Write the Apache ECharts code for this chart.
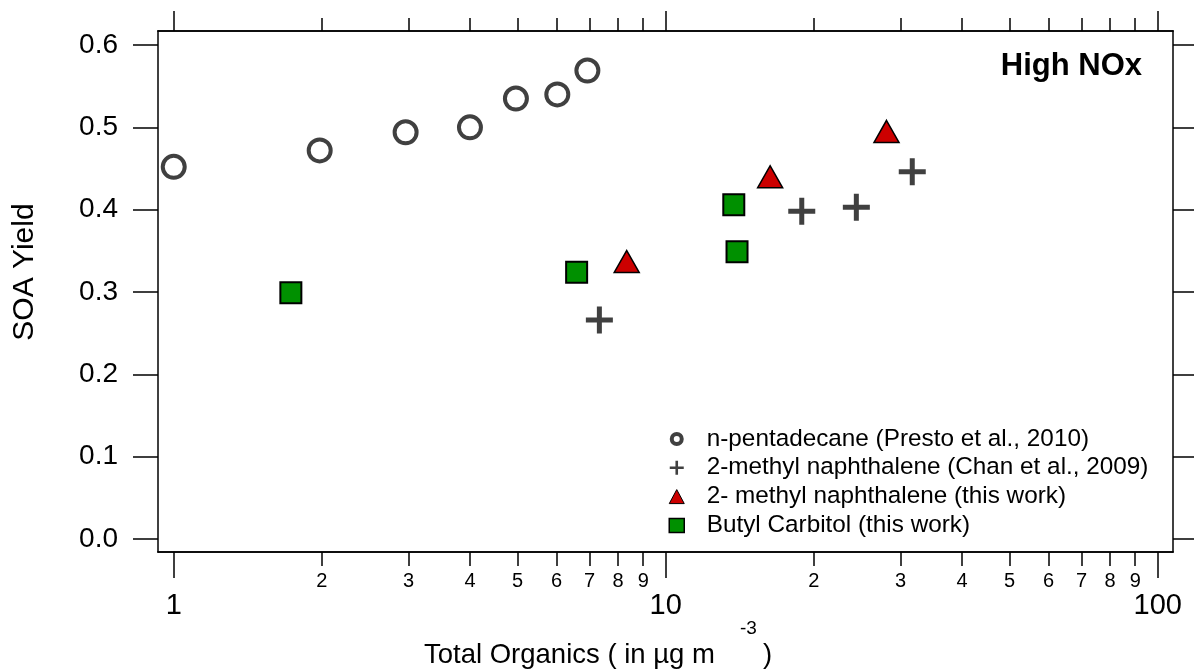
<!DOCTYPE html>
<html>
<head>
<meta charset="utf-8">
<script src="https://cdn.jsdelivr.net/npm/echarts@6/dist/echarts.min.js"></script>
<style>
  html, body { margin: 0; padding: 0; background: #fff; }
  #main { width: 1194px; height: 670px; }
</style>
</head>
<body>
<div id="main"></div>
<script>
// values
var pentadecaneX = [1.0, 1.98, 2.96, 4.0, 4.96, 6.02, 6.93]
var pentadecaneY = [0.452, 0.472, 0.494, 0.500, 0.535, 0.540, 0.569]
var chanX = [7.33, 18.9, 24.4, 31.7]
var chanY = [0.266, 0.398, 0.403, 0.446]
var methylX = [8.33, 16.3, 28.1]
var methylY = [0.337, 0.440, 0.495]
var butylX = [1.73, 6.59, 13.75, 13.96]
var butylY = [0.299, 0.324, 0.406, 0.349]

var seriesNames = [
  'n-pentadecane (Presto et al., 2010)',
  '2-methyl naphthalene (Chan et al., 2009)',
  '2- methyl naphthalene (this work)',
  'Butyl Carbitol (this work)'
]
var majorTicks = [1, 10, 100]
var minorTicks = [2, 3, 4, 5, 6, 7, 8, 9, 20, 30, 40, 50, 60, 70, 80, 90]
var yTicks = [0, 0.1, 0.2, 0.3, 0.4, 0.5, 0.6]

var FONT = '"Liberation Sans", Arial, sans-serif'
var xMin = 0.929, xMax = 107.4
var yMin = -0.0158, yMax = 0.617
var plusPath = 'path://M11,0H16V11H27V16H16V27H11V16H0V11H11Z'
var ringPath = 'path://M7,0A7,7,0,1,1,6.99,0ZM7,4A3,3,0,1,0,7.01,4Z'

function pairs(xs, ys) {
  var res = []
  for (var i = 0; i < xs.length; i++) res.push([xs[i], ys[i]])
  return res
}

function logAxis(pos, ticks, len, label) {
  return {
    type: 'log', logBase: 10, position: pos, min: xMin, max: xMax,
    axisLine: { show: true, onZero: false, lineStyle: { color: '#000', width: 1.5 } },
    axisTick: { show: true, inside: false, length: len, customValues: ticks,
      lineStyle: { color: '#000', width: 1.5 } },
    axisLabel: label ? label : { show: false },
    splitLine: { show: false }, minorTick: { show: false }
  }
}

var myChart = echarts.init(document.getElementById('main'))

var option = {
  animation: false,
  backgroundColor: '#fff',
  grid: { left: 158, top: 31, right: 21, bottom: 118 },
  xAxis: [
    logAxis('bottom', majorTicks, 26, {
      show: true, customValues: majorTicks, margin: 39,
      fontFamily: FONT, fontSize: 29, color: '#000',
      formatter: function (v) { return String(Math.round(v)) }
    }),
    logAxis('bottom', minorTicks, 14, {
      show: true, customValues: minorTicks, margin: 19,
      fontFamily: FONT, fontSize: 20, color: '#000',
      formatter: function (v) {
        var p = Math.pow(10, Math.floor(Math.log10(v) + 1e-9))
        return String(Math.round(v / p))
      }
    }),
    logAxis('top', majorTicks, 20),
    logAxis('top', minorTicks, 13)
  ],
  yAxis: [
    {
      type: 'value', position: 'left', min: yMin, max: yMax,
      axisLine: { show: true, onZero: false, lineStyle: { color: '#000', width: 1.5 } },
      axisTick: { show: true, inside: false, length: 25, customValues: yTicks,
        lineStyle: { color: '#000', width: 1.5 } },
      axisLabel: { show: true, customValues: yTicks, margin: 40,
        fontFamily: FONT, fontSize: 28, color: '#000',
        formatter: function (v) { return v.toFixed(1) } },
      splitLine: { show: false }
    },
    {
      type: 'value', position: 'right', min: yMin, max: yMax,
      axisLine: { show: true, onZero: false, lineStyle: { color: '#000', width: 1.5 } },
      axisTick: { show: true, inside: false, length: 25, customValues: yTicks,
        lineStyle: { color: '#000', width: 1.5 } },
      axisLabel: { show: false },
      splitLine: { show: false }
    }
  ],
  legend: {
    orient: 'vertical', left: 668.5, top: 427, padding: 0,
    itemWidth: 15, itemHeight: 14, itemGap: 4.8,
    selectedMode: false,
    textStyle: { fontFamily: FONT, fontSize: 24.3, lineHeight: 24, color: '#000',
      padding: [0, 0, 0, 17.5] },
    data: [
      { name: seriesNames[0], icon: ringPath, itemStyle: { color: '#404040', borderWidth: 0 } },
      { name: seriesNames[1], itemStyle: { color: '#404040', borderWidth: 0 } },
      { name: seriesNames[2], itemStyle: { color: '#cc0000', borderColor: '#000', borderWidth: 1 } },
      { name: seriesNames[3], itemStyle: { color: '#009000', borderColor: '#000', borderWidth: 1.5 } }
    ]
  },
  graphic: [
    { type: 'text', x: 1142, y: 66,
      style: { text: 'High NOx', fontFamily: FONT, fontSize: 31, fontWeight: 'bold',
        fill: '#000', align: 'right', verticalAlign: 'middle' } },
    { type: 'text', x: 25, y: 272, rotation: Math.PI / 2,
      style: { text: 'SOA Yield', fontFamily: FONT, fontSize: 30,
        fill: '#000', align: 'center', verticalAlign: 'middle' } },
    { type: 'text', x: 424, y: 655,
      style: { text: 'Total Organics ( in µg m', fontFamily: FONT, fontSize: 27.5,
        fill: '#000', align: 'left', verticalAlign: 'middle' } },
    { type: 'text', x: 740, y: 629,
      style: { text: '-3', fontFamily: FONT, fontSize: 19,
        fill: '#000', align: 'left', verticalAlign: 'middle' } },
    { type: 'text', x: 763, y: 655,
      style: { text: ')', fontFamily: FONT, fontSize: 27.5,
        fill: '#000', align: 'left', verticalAlign: 'middle' } }
  ],
  series: [
    {
      name: seriesNames[0], type: 'scatter', xAxisIndex: 0, yAxisIndex: 0,
      symbol: 'circle', symbolSize: 22,
      itemStyle: { color: '#fff', borderColor: '#404040', borderWidth: 4, opacity: 1 },
      data: pairs(pentadecaneX, pentadecaneY)
    },
    {
      name: seriesNames[1], type: 'scatter', xAxisIndex: 0, yAxisIndex: 0,
      symbol: plusPath, symbolSize: 27,
      itemStyle: { color: '#404040', opacity: 1 },
      data: pairs(chanX, chanY)
    },
    {
      name: seriesNames[2], type: 'scatter', xAxisIndex: 0, yAxisIndex: 0,
      symbol: 'triangle', symbolSize: [25, 22],
      itemStyle: { color: '#cc0000', borderColor: '#000', borderWidth: 1.5, opacity: 1 },
      data: pairs(methylX, methylY)
    },
    {
      name: seriesNames[3], type: 'scatter', xAxisIndex: 0, yAxisIndex: 0,
      symbol: 'rect', symbolSize: 21,
      itemStyle: { color: '#009000', borderColor: '#000', borderWidth: 2, opacity: 1 },
      data: pairs(butylX, butylY)
    }
  ]
}

myChart.setOption(option)
</script>
</body>
</html>
